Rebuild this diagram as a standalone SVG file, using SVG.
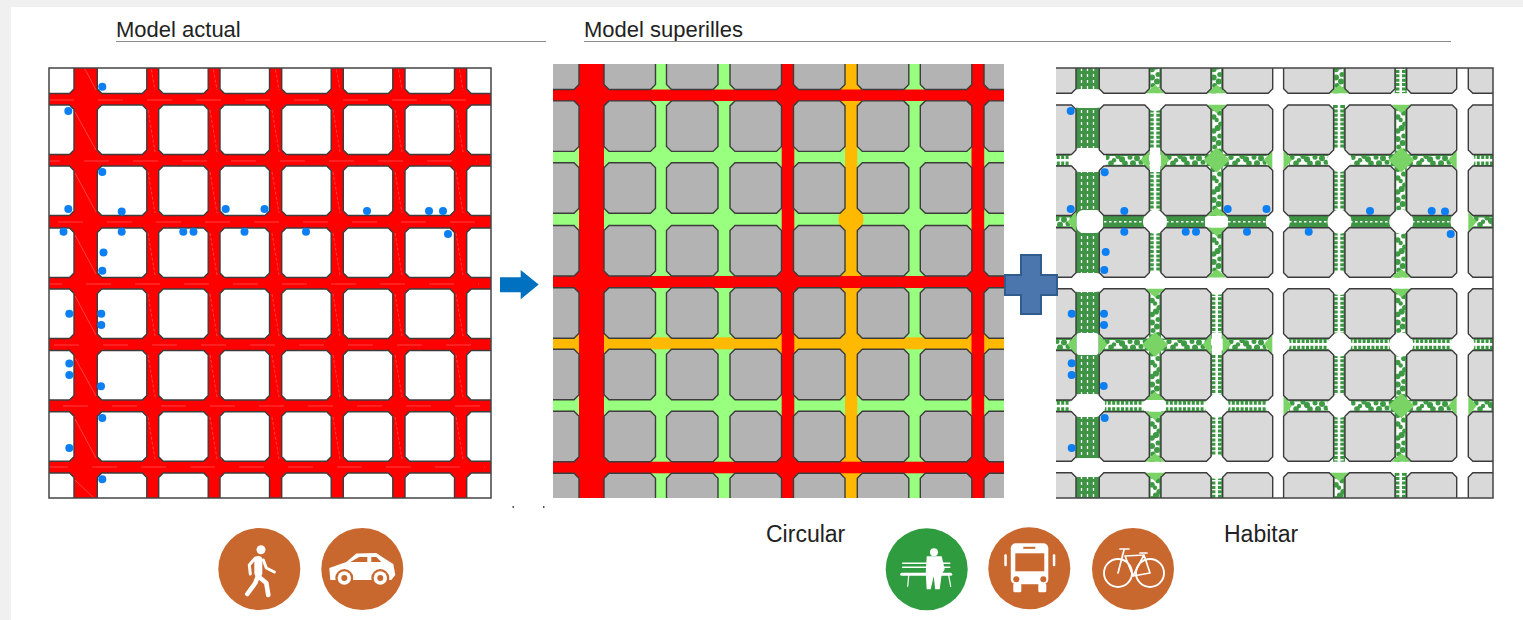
<svg xmlns="http://www.w3.org/2000/svg" xmlns:xlink="http://www.w3.org/1999/xlink" width="1523" height="620" viewBox="0 0 1523 620">
<style>
text{font-family:"Liberation Sans",Arial,sans-serif;fill:#222}
.t{font-size:22px}
.b{font-size:23px}
.rule{stroke:#8a8a8a;stroke-width:1.2;fill:none}
.k{stroke:#3c3c3c;stroke-width:1.4}
.p1{fill:#fff}.p2{fill:#b3b3b3}.p3{fill:#d9d9d9}
.dot{fill:#0c7ff2}
.red{fill:#f00}.or{fill:#ffb900}.gr{fill:#99ff7f}
.st{stroke:#ff6060;stroke-width:.7;fill:none}
.tri{fill:#7ad365}
.w{fill:#fff}
.o{fill:#c8672e}.ic{fill:#fff}
.ln{fill:none;stroke:#fff;stroke-linecap:round;stroke-linejoin:round}
</style>
<defs>
<clipPath id="c1"><rect x="49" y="68" width="442" height="430"/></clipPath>
<clipPath id="c2"><rect x="553" y="64" width="451" height="434"/></clipPath>
<clipPath id="c3"><rect x="1056" y="68" width="437" height="430"/></clipPath>
<path id="b1" class="k" d="M4.5 0H45L49.5 4.5V45L45 49.5H4.5L0 45V4.5Z"/>
<path id="b3" class="k" d="M4.5 0H45.5L50 4.5V45L45.5 49.5H4.5L0 45V4.5Z"/>
<path id="b2" class="k" d="M5 0H46.5L51.5 5V45.5L46.5 50.5H5L0 45.5V5Z"/>
<g id="row1"><use href="#b1" x="24.5"/><use href="#b1" x="97.3"/><use href="#b1" x="158.7"/><use href="#b1" x="220"/><use href="#b1" x="281.7"/><use href="#b1" x="343.3"/><use href="#b1" x="405"/><use href="#b1" x="466.7"/></g>
<g id="row2"><use href="#b2" x="527.5"/><use href="#b2" x="604"/><use href="#b2" x="666.5"/><use href="#b2" x="730"/><use href="#b2" x="793.5"/><use href="#b2" x="857.3"/><use href="#b2" x="920.3"/><use href="#b2" x="984"/></g>
<g id="row3"><use href="#b3" x="1026"/><use href="#b3" x="1099.3"/><use href="#b3" x="1161"/><use href="#b3" x="1222.7"/><use href="#b3" x="1283.6"/><use href="#b3" x="1345"/><use href="#b3" x="1406.7"/><use href="#b3" x="1468.3"/></g>
<g id="lad"><rect width="50" height="12" fill="#fff"/><path d="M0 2.5H50M0 9.5H50" fill="none" stroke="#3a9640" stroke-width="4.4" stroke-dasharray="3 1.4"/><path d="M0 .7H50M0 11.3H50" fill="none" stroke="#3a9640" stroke-width="1.4"/></g>
<g id="sol"><rect width="50" height="12" fill="#3f9345"/><path d="M0 6H50" fill="none" stroke="#fff" stroke-width="1.5" stroke-dasharray="2.5 2.5"/></g>
<g id="blo"><rect width="50" height="12" fill="#fff"/><path d="M0 .8H50M0 11.2H50" fill="none" stroke="#3f9a45" stroke-width="1.6"/><g fill="#3f9a45"><circle cx="3" cy="9" r="3"/><circle cx="8" cy="3" r="2.6"/><circle cx="12" cy="9" r="2.8"/><circle cx="15" cy="6" r="2.2"/><circle cx="19" cy="2" r="2.6"/><circle cx="23" cy="5" r="3.1"/><circle cx="26" cy="9" r="2.8"/><circle cx="31" cy="3" r="2.5"/><circle cx="34" cy="9" r="3"/><circle cx="38" cy="4" r="3"/><circle cx="42" cy="8" r="2.5"/><circle cx="46" cy="3" r="2.4"/><circle cx="48.5" cy="9" r="2.8"/></g></g>
<polygon id="tri" class="tri" points="0,-10 8.5,0 0,10"/>
<polygon id="dia" class="tri" points="-13,0 0,-12.5 13,0 0,12.5"/>
<circle id="ci" class="w" r="12"/>
<g id="st1"><path class="st" stroke-dasharray="25 24" d="M49 0H491"/></g>
<path id="vs" class="st" stroke-dasharray="3 2" d="M1 50L8 90M1 110L8 152M1 172L8 213M1 233L8 275M1 294L8 336M1 355L8 397M1 417L8 459"/>
</defs>

<rect width="1523" height="620" fill="#f0f0f0"/>
<rect x="11" y="7" width="1512" height="613" fill="#fff"/>

<g id="title-actual"><text class="t" x="116" y="37">Model actual</text><path class="rule" d="M116 41.5H546"/></g>
<g id="title-superilles"><text class="t" x="584" y="37">Model superilles</text><path class="rule" d="M584 41.5H1451"/></g>

<g id="panel-actual">
<g clip-path="url(#c1)">
<rect x="49" y="68" width="442" height="430" class="red"/>
<use href="#st1" y="100"/><use href="#st1" x="-14" y="161"/><use href="#st1" x="9" y="222"/><use href="#st1" x="-12" y="284"/><use href="#st1" x="5" y="345"/><use href="#st1" x="14" y="406"/><use href="#st1" x="-6" y="467"/>
<path class="st" d="M75 112L96 150M75 50L96 90M75 173L96 212M75 235L96 274M75 296L96 335M75 358L96 396M75 419L96 458M75 480L96 500"/>
<use href="#vs" x="147"/><use href="#vs" x="209"/><use href="#vs" x="271"/><use href="#vs" x="332"/><use href="#vs" x="394"/><use href="#vs" x="455"/>
<g class="p1"><use href="#row1" y="44"/><use href="#row1" y="105"/><use href="#row1" y="166"/><use href="#row1" y="228"/><use href="#row1" y="289"/><use href="#row1" y="350.5"/><use href="#row1" y="411.7"/><use href="#row1" y="473"/></g>
</g>
<rect x="49" y="68" width="442" height="430" fill="none" stroke="#444" stroke-width="1.5"/>
<g class="dot"><circle cx="102.3" cy="86.7" r="4"/><circle cx="68.3" cy="111" r="4"/><circle cx="102.3" cy="172" r="4"/><circle cx="68.3" cy="209" r="4"/><circle cx="121.7" cy="211.5" r="4"/><circle cx="121.7" cy="231.7" r="4"/><circle cx="63.5" cy="231.7" r="4"/><circle cx="183.3" cy="231.7" r="4"/><circle cx="193.5" cy="231.7" r="4"/><circle cx="225.7" cy="209" r="4"/><circle cx="264.5" cy="209" r="4"/><circle cx="244.5" cy="231.7" r="4"/><circle cx="306" cy="231.7" r="4"/><circle cx="367" cy="211" r="4"/><circle cx="429" cy="211" r="4"/><circle cx="443" cy="211" r="4"/><circle cx="448" cy="234" r="4"/><circle cx="103.5" cy="252.5" r="4"/><circle cx="102.3" cy="270.7" r="4"/><circle cx="69.3" cy="313.7" r="4"/><circle cx="101.3" cy="313.7" r="4"/><circle cx="101.3" cy="325" r="4"/><circle cx="69.3" cy="363.5" r="4"/><circle cx="69.3" cy="375" r="4"/><circle cx="101" cy="386.3" r="4"/><circle cx="102.3" cy="418" r="4"/><circle cx="69.3" cy="448" r="4"/><circle cx="102.3" cy="479.3" r="4"/></g>
</g>

<g id="arrow"><polygon fill="#0070c0" points="500,277.3 520.7,277.3 520.7,270 538.7,284.5 520.7,299.3 520.7,292.3 500,292.3"/></g>
<g id="ticks" fill="#555"><rect x="512.5" y="506" width="1.5" height="2"/><rect x="543" y="506" width="1.5" height="2"/></g>

<g id="panel-superilles" clip-path="url(#c2)">
<rect x="553" y="64" width="451" height="434" class="gr"/>
<g class="or">
<rect x="837" y="82" width="28" height="27"/><rect x="837" y="268" width="28" height="28"/><rect x="837" y="454" width="28" height="27"/>
<rect x="837" y="330" width="28" height="27"/><rect x="572" y="330" width="39" height="27"/><rect x="774" y="330" width="28" height="27"/><rect x="964" y="330" width="28" height="27"/>
<rect x="845" y="64" width="12.3" height="434"/>
<rect x="553" y="337.3" width="451" height="12"/>
<circle cx="851" cy="219.5" r="12.5"/>
</g>
<g class="red">
<rect x="572" y="82" width="39" height="27"/><rect x="572" y="268" width="39" height="28"/><rect x="572" y="454" width="39" height="27"/>
<rect x="774" y="82" width="28" height="27"/><rect x="774" y="268" width="28" height="28"/><rect x="774" y="454" width="28" height="27"/>
<rect x="964" y="82" width="28" height="27"/><rect x="964" y="268" width="28" height="28"/><rect x="964" y="454" width="28" height="27"/>
<rect x="553" y="89.5" width="451" height="11.5"/><rect x="553" y="276" width="451" height="12"/><rect x="553" y="461.7" width="451" height="11.6"/>
<rect x="579" y="64" width="25" height="434"/><rect x="781.7" y="64" width="12.6" height="434"/><rect x="971.5" y="64" width="12.7" height="434"/>
</g>
<g class="p2"><use href="#row2" y="39"/><use href="#row2" y="100.9"/><use href="#row2" y="162.7"/><use href="#row2" y="225.5"/><use href="#row2" y="287.8"/><use href="#row2" y="349.2"/><use href="#row2" y="411.2"/><use href="#row2" y="473.2"/></g>
</g>

<g id="panel-habitar">
<g clip-path="url(#c3)">
<rect x="1056" y="68" width="437" height="430" class="w"/>
<g id="h-segments">
<use href="#lad" x="1026" y="154.3"/><use href="#blo" x="1099" y="154.3"/><use href="#blo" x="1161" y="154.3"/><use href="#blo" x="1223" y="154.3"/><use href="#blo" x="1284" y="154.3"/><use href="#blo" x="1345" y="154.3"/><use href="#blo" x="1407" y="154.3"/><use href="#lad" x="1468" y="154.3"/>
<use href="#blo" x="1026" y="215.8"/><use href="#sol" x="1099" y="215.8"/><use href="#sol" x="1161" y="215.8"/><use href="#sol" x="1223" y="215.8"/><use href="#sol" x="1284" y="215.8"/><use href="#sol" x="1345" y="215.8"/><use href="#sol" x="1407" y="215.8"/><use href="#blo" x="1468" y="215.8"/>
<use href="#blo" x="1026" y="338.4"/><use href="#blo" x="1099" y="338.4"/><use href="#blo" x="1161" y="338.4"/><use href="#blo" x="1223" y="338.4"/><use href="#lad" x="1284" y="338.4"/><use href="#lad" x="1345" y="338.4"/><use href="#lad" x="1407" y="338.4"/><use href="#lad" x="1468" y="338.4"/>
<use href="#lad" x="1026" y="400"/><use href="#lad" x="1099" y="400"/><use href="#lad" x="1161" y="400"/><use href="#lad" x="1223" y="400"/><use href="#blo" x="1284" y="400"/><use href="#blo" x="1345" y="400"/><use href="#blo" x="1407" y="400"/><use href="#blo" x="1468" y="400"/>
</g>
<g id="v-segments">
<rect x="1076" y="68" width="23.3" height="430" fill="#3f9345"/>
<path d="M1081.5 68V498M1087.5 68V498M1093.5 68V498" fill="none" stroke="#fff" stroke-width="1.3" stroke-dasharray="3 3"/>
<use href="#blo" transform="translate(1161,43.5) rotate(90)"/><use href="#lad" transform="translate(1161,105) rotate(90)"/><use href="#lad" transform="translate(1161,166) rotate(90)"/><use href="#lad" transform="translate(1161,228) rotate(90)"/><use href="#blo" transform="translate(1161,288.5) rotate(90)"/><use href="#blo" transform="translate(1161,350.5) rotate(90)"/><use href="#blo" transform="translate(1161,412) rotate(90)"/><use href="#blo" transform="translate(1161,472.7) rotate(90)"/>
<use href="#blo" transform="translate(1222.7,43.5) rotate(90)"/><use href="#blo" transform="translate(1222.7,105) rotate(90)"/><use href="#blo" transform="translate(1222.7,166) rotate(90)"/><use href="#blo" transform="translate(1222.7,228) rotate(90)"/><use href="#lad" transform="translate(1222.7,288.5) rotate(90)"/><use href="#lad" transform="translate(1222.7,350.5) rotate(90)"/><use href="#lad" transform="translate(1222.7,412) rotate(90)"/><use href="#lad" transform="translate(1222.7,472.7) rotate(90)"/>
<use href="#blo" transform="translate(1345,43.5) rotate(90)"/><use href="#lad" transform="translate(1345,105) rotate(90)"/><use href="#lad" transform="translate(1345,166) rotate(90)"/><use href="#lad" transform="translate(1345,228) rotate(90)"/><use href="#lad" transform="translate(1345,288.5) rotate(90)"/><use href="#lad" transform="translate(1345,350.5) rotate(90)"/><use href="#lad" transform="translate(1345,412) rotate(90)"/><use href="#blo" transform="translate(1345,472.7) rotate(90)"/>
<use href="#lad" transform="translate(1406.7,43.5) rotate(90)"/><use href="#blo" transform="translate(1406.7,105) rotate(90)"/><use href="#blo" transform="translate(1406.7,166) rotate(90)"/><use href="#blo" transform="translate(1406.7,228) rotate(90)"/><use href="#blo" transform="translate(1406.7,288.5) rotate(90)"/><use href="#blo" transform="translate(1406.7,350.5) rotate(90)"/><use href="#blo" transform="translate(1406.7,412) rotate(90)"/><use href="#lad" transform="translate(1406.7,472.7) rotate(90)"/>
</g>
<g id="crossings-white" class="w">
<rect x="1071" y="89" width="33" height="19" rx="8"/><rect x="1070" y="148" width="36" height="24" rx="9"/><rect x="1076.5" y="210" width="26.5" height="23" rx="7"/><rect x="1070" y="273" width="34" height="19" rx="8"/><rect x="1076.5" y="333" width="22" height="22" rx="3"/><rect x="1070" y="394" width="35" height="23" rx="9"/><rect x="1070" y="458" width="35" height="19" rx="8"/>
<rect x="1149.5" y="148" width="11" height="24"/><rect x="1143" y="400" width="23" height="11.5" rx="3"/><rect x="1205" y="216" width="23" height="11.8" rx="3"/><rect x="1211.7" y="333" width="10" height="22"/>
<rect x="1049" y="93.3" width="450" height="11.4"/><rect x="1049" y="277.5" width="450" height="11.2"/><rect x="1049" y="461.7" width="450" height="11"/>
<rect x="1272.3" y="68" width="11.3" height="430"/><rect x="1456.7" y="68" width="11.6" height="430"/>
<use href="#ci" x="1155" y="99"/><use href="#ci" x="1155" y="221.7"/><use href="#ci" x="1155" y="283"/><use href="#ci" x="1216.7" y="405.8"/><use href="#ci" x="1216.7" y="467"/><use href="#ci" x="1216.7" y="283"/>
<use href="#ci" x="1339.5" y="160"/><use href="#ci" x="1339.5" y="221.7"/><use href="#ci" x="1339.5" y="283"/><use href="#ci" x="1339.5" y="344.4"/><use href="#ci" x="1339.5" y="405.8"/>
<use href="#ci" x="1401.3" y="221.7"/><use href="#ci" x="1401.3" y="344.4"/>
<use href="#ci" x="1277.8" y="221.7"/><use href="#ci" x="1277.8" y="344.4"/><use href="#ci" x="1277.8" y="405.8"/><use href="#ci" x="1277.8" y="160"/><use href="#ci" x="1462.5" y="160"/><use href="#ci" x="1462.5" y="221.7"/><use href="#ci" x="1462.5" y="344.4"/><use href="#ci" x="1462.5" y="405.8"/>
</g>
<g id="greens">
<use href="#dia" x="1216.7" y="160"/><use href="#dia" x="1155" y="344.4"/><use href="#dia" x="1401.3" y="160"/><use href="#dia" x="1401.3" y="405.8"/>
<use href="#tri" transform="translate(1149,160) rotate(180)"/><use href="#tri" transform="translate(1161,160)"/>
<use href="#tri" transform="translate(1272.3,160) rotate(180)"/><use href="#tri" transform="translate(1283.5,160)"/><use href="#tri" transform="translate(1456.7,160) rotate(180)"/>
<use href="#tri" transform="translate(1076,221.7) rotate(180)"/><use href="#tri" transform="translate(1468.3,221.7)"/>
<use href="#tri" transform="translate(1076,344.4) rotate(180)"/><use href="#tri" transform="translate(1099,344.4)"/><use href="#tri" transform="translate(1211,344.4) rotate(180)"/><use href="#tri" transform="translate(1222.7,344.4)"/><use href="#tri" transform="translate(1272.3,344.4) rotate(180)"/>
<use href="#tri" transform="translate(1283.5,405.8)"/><use href="#tri" transform="translate(1456.7,405.8) rotate(180)"/><use href="#tri" transform="translate(1468.3,405.8)"/>
<use href="#tri" transform="translate(1155,93.3) rotate(-90)"/><use href="#tri" transform="translate(1216.7,93.3) rotate(-90)"/><use href="#tri" transform="translate(1216.7,104.7) rotate(90)"/><use href="#tri" transform="translate(1339.5,93.3) rotate(-90)"/><use href="#tri" transform="translate(1401.3,104.7) rotate(90)"/>
<use href="#tri" transform="translate(1216.7,215.8) rotate(-90)"/><use href="#tri" transform="translate(1216.7,227.8) rotate(90)"/>
<use href="#tri" transform="translate(1216.7,277.5) rotate(-90)"/><use href="#tri" transform="translate(1155,288.7) rotate(90)"/><use href="#tri" transform="translate(1401.3,277.5) rotate(-90)"/><use href="#tri" transform="translate(1401.3,288.7) rotate(90)"/>
<use href="#tri" transform="translate(1155,400) rotate(-90)"/><use href="#tri" transform="translate(1155,411.7) rotate(90)"/>
<use href="#tri" transform="translate(1155,461.7) rotate(-90)"/><use href="#tri" transform="translate(1155,472.7) rotate(90)"/><use href="#tri" transform="translate(1339.5,472.7) rotate(90)"/><use href="#tri" transform="translate(1401.3,461.7) rotate(-90)"/>
</g>
<g class="p3"><use href="#row3" y="43.7"/><use href="#row3" y="105"/><use href="#row3" y="166"/><use href="#row3" y="227.8"/><use href="#row3" y="288.7"/><use href="#row3" y="350.5"/><use href="#row3" y="411.8"/><use href="#row3" y="472.7"/></g>
</g>
<path d="M1056 68H1493V498H1056" fill="none" stroke="#444" stroke-width="1.5"/>
<g class="dot"><circle cx="1070.7" cy="111" r="4"/><circle cx="1104.7" cy="172.3" r="4"/><circle cx="1070.7" cy="209" r="4"/><circle cx="1124.3" cy="211" r="4"/><circle cx="1124.3" cy="231.7" r="4"/><circle cx="1185.7" cy="231.7" r="4"/><circle cx="1196" cy="231.7" r="4"/><circle cx="1227.7" cy="209" r="4"/><circle cx="1266.5" cy="209" r="4"/><circle cx="1247" cy="231.7" r="4"/><circle cx="1308.7" cy="231.7" r="4"/><circle cx="1370" cy="211" r="4"/><circle cx="1431.7" cy="211" r="4"/><circle cx="1445" cy="211.5" r="4"/><circle cx="1450.7" cy="234" r="4"/><circle cx="1105.7" cy="252" r="4"/><circle cx="1104.3" cy="270" r="4"/><circle cx="1071.7" cy="313.7" r="4"/><circle cx="1104" cy="313.7" r="4"/><circle cx="1104" cy="325" r="4"/><circle cx="1071.7" cy="363.3" r="4"/><circle cx="1071.7" cy="375" r="4"/><circle cx="1103.7" cy="386" r="4"/><circle cx="1104.7" cy="418" r="4"/><circle cx="1071.7" cy="448" r="4"/></g>
</g>

<g id="plus"><path d="M1021 255H1041V275H1057V295H1041V314H1021V295H1005V275H1021Z" fill="#4a76ad" stroke="#2f5c8c" stroke-width="2"/></g>

<g id="label-circular"><text class="b" x="766" y="542">Circular</text></g>
<g id="label-habitar"><text class="b" x="1224" y="542">Habitar</text></g>

<g id="icon-walk" transform="translate(259.3,569)">
<circle class="o" r="41"/><circle class="ic" cx="1.7" cy="-19.3" r="4.5"/>
<path class="ln" stroke-width="8" d="M-1 -9V4"/>
<path class="ln" stroke-width="4.6" d="M-1 6L-4 14L-12 25M1 9L7 14L9 26"/>
<path class="ln" stroke-width="3" d="M-4 -11L-10 -4L-9 5M4 -9L7 -1L15 3"/>
</g>
<g id="icon-car" transform="translate(362.3,569)">
<circle class="o" r="41"/>
<path class="ic" d="M-32 11L-33 -1L-16 -7L-6 -15.5L14 -16L23 -10L31 -5L33 6L29 11Z"/>
<path class="o" d="M-12 -7L-3 -12H5V-7ZM9 -12H14L19 -7H9Z"/>
<circle class="o" cx="-18" cy="9" r="9"/><circle class="o" cx="18" cy="9" r="9"/>
<circle class="ic" cx="-18" cy="9" r="6.7"/><circle class="ic" cx="18" cy="9" r="6.7"/>
<circle class="o" cx="-18" cy="9" r="3"/><circle class="o" cx="18" cy="9" r="3"/>
</g>
<g id="icon-bench" transform="translate(926.7,569.3)">
<circle r="41" fill="#2e9c3f"/>
<path class="ln" stroke-width="1.6" d="M-24 -6H23M-24 -2H23"/>
<path class="ln" stroke-width="3" d="M-25 5H24"/>
<path class="ln" stroke-width="1.2" d="M-18 6L-19 17M22 6L24 17"/>
<circle class="ic" cx="7.3" cy="-17" r="4"/>
<path class="ic" d="M0 -13H15L18 0L15 5L13 20H8.5L7 7L4 20H0L-1 4Z"/>
</g>
<g id="icon-bus" transform="translate(1029.3,568.3)">
<circle class="o" r="41"/>
<rect class="ic" x="-18.5" y="-25" width="37.5" height="41" rx="5"/>
<rect class="o" x="-14" y="-15" width="29" height="18"/><rect class="o" x="-6" y="-21.5" width="12" height="2"/>
<circle class="o" cx="-13" cy="11" r="3"/><circle class="o" cx="14" cy="11" r="3"/>
<rect class="ic" x="-16" y="15" width="8" height="9" rx="1.5"/><rect class="ic" x="9" y="15" width="8" height="9" rx="1.5"/>
<rect class="ic" x="-25" y="-14" width="2.5" height="12" rx="1"/><rect class="ic" x="23.5" y="-14" width="2.5" height="12" rx="1"/>
</g>
<g id="icon-bike" transform="translate(1133,569)">
<circle class="o" r="41"/>
<circle class="ln" cx="-15" cy="4" r="14" stroke-width="1.9"/><circle class="ln" cx="17" cy="4" r="14" stroke-width="1.9"/>
<path class="ln" stroke-width="1.7" d="M-9 -19L-15 4M-8 -13L11 -14M-8 -13L0 7M11 -14L0 7M0 7L17 4M11 -14L17 4M-13 -20L-4 -20M7 -16H14"/>
</g>
</svg>
